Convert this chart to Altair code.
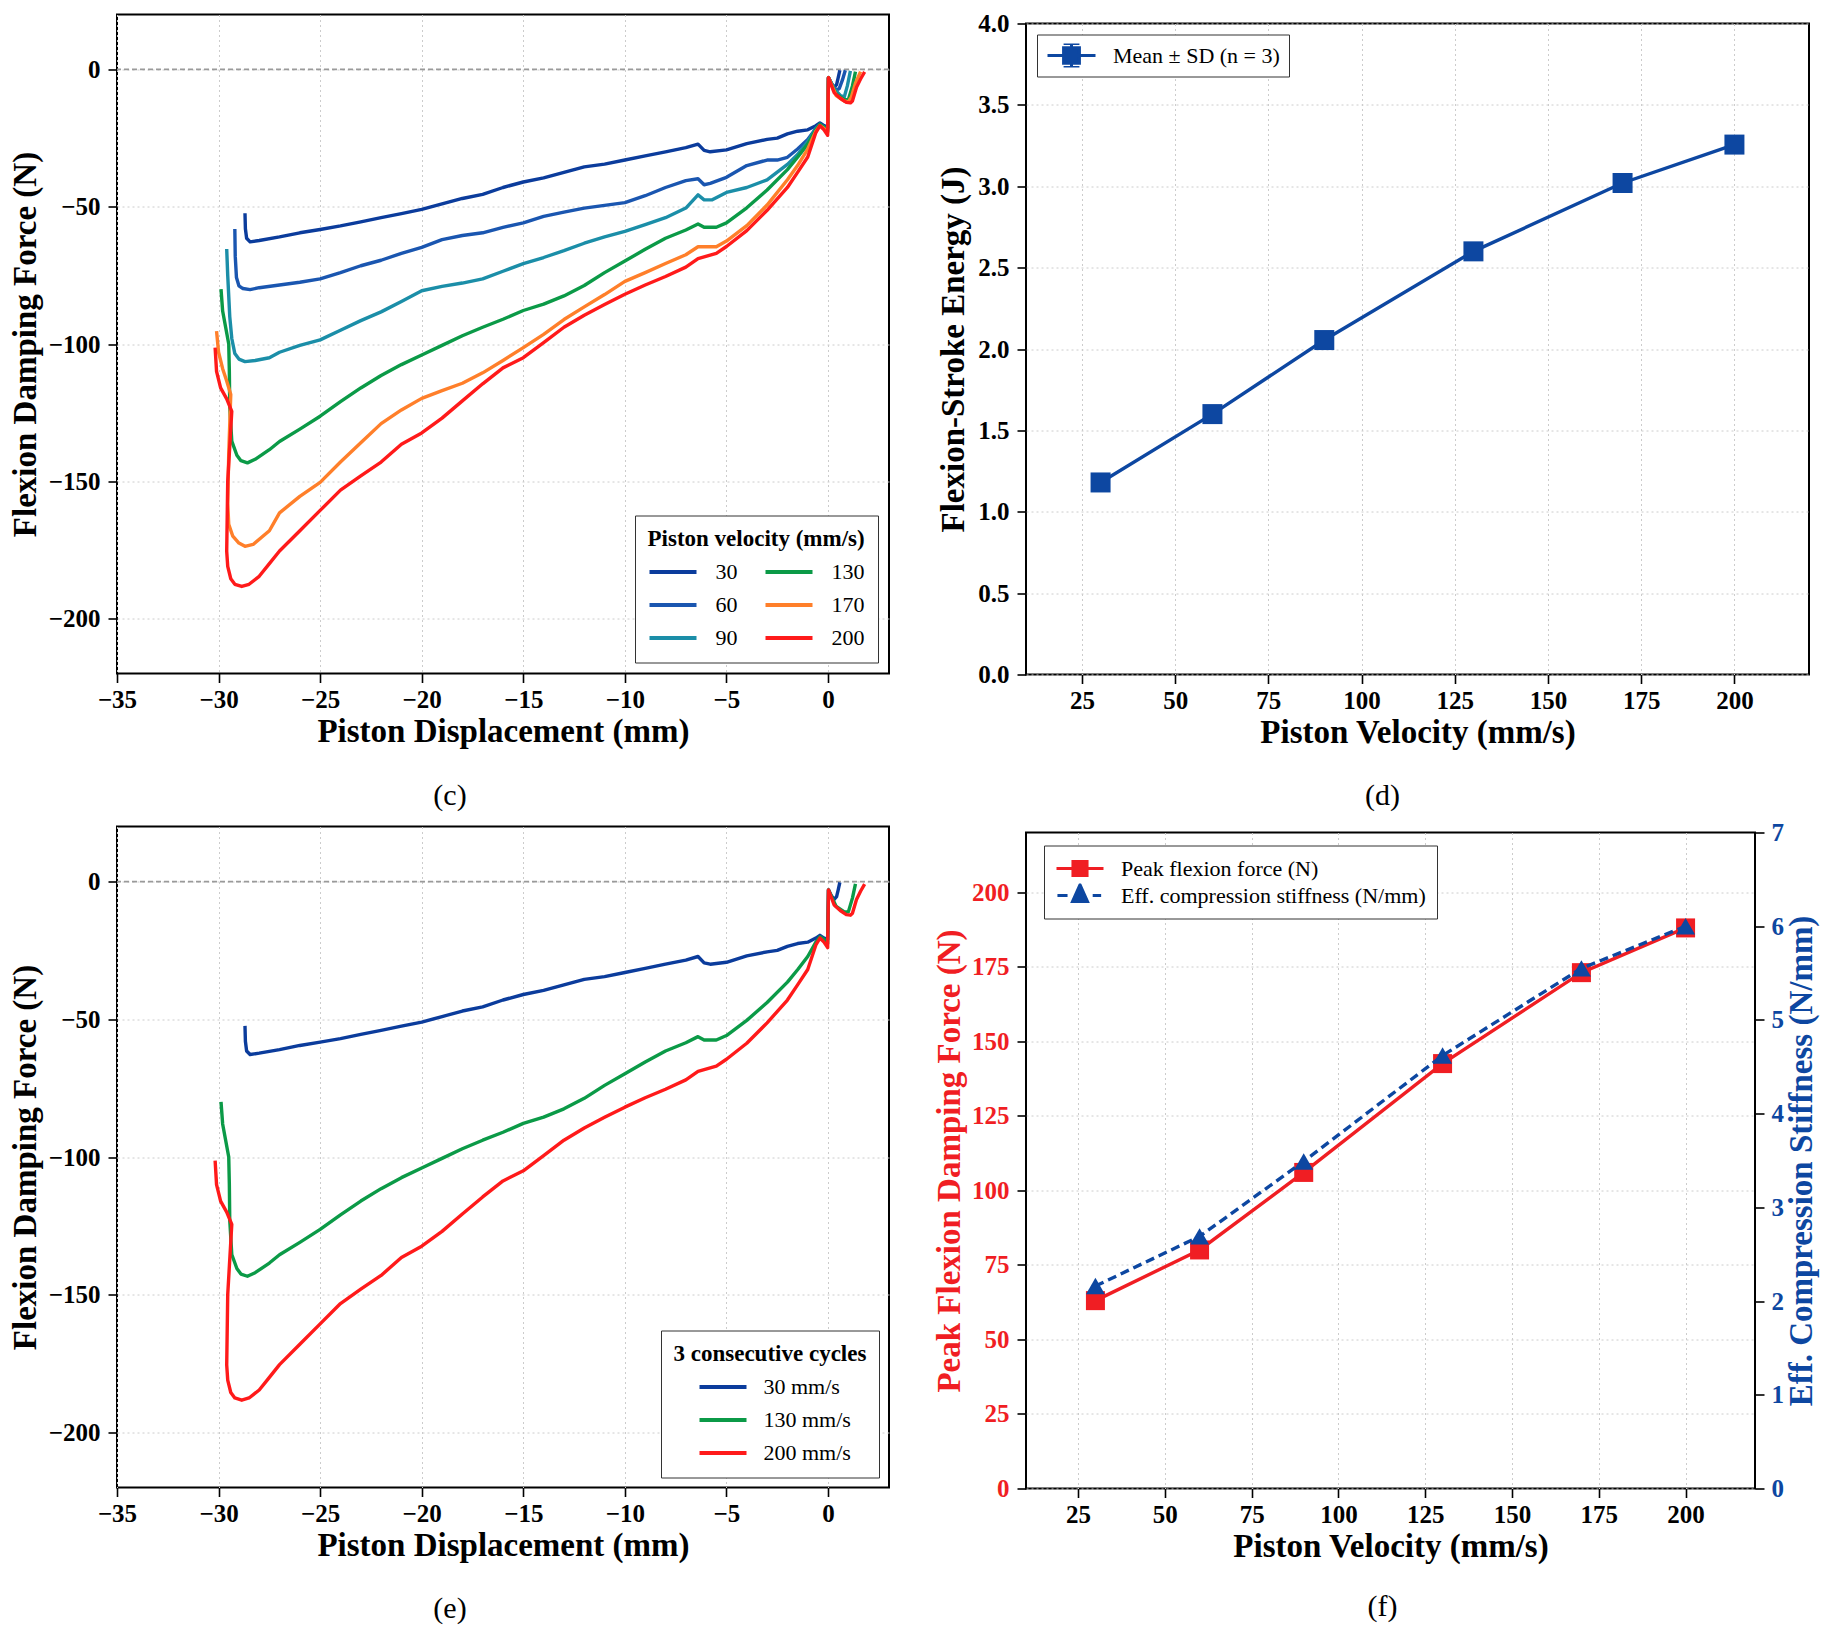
import altair as alt
import pandas as pd

FONT = "Liberation Serif"
BLUE = "#0d47a1"
RED = "#f01e23"

# ---------------- (c)/(e): force vs displacement traces ----------------
X30 = [-28.70, -28.68, -28.62, -28.45, -28.0, -27.0, -26.0, -25.0, -24.0, -23.0, -22.0, -21.0, -20.0,
       -19.0, -18.0, -17.0, -16.0, -15.0, -14.0, -13.0, -12.0, -11.0, -10.0, -9.0, -8.0, -7.0, -6.4,
       -6.1, -5.8, -5.0, -4.0, -3.0, -2.5, -2.0, -1.5, -1.0, -0.6, -0.4, -0.2, -0.02, 0.02, 0.15, 0.3,
       0.42, 0.5, 0.58]
Y30 = [-52.4, -58.0, -61.5, -62.8, -62.3, -61.0, -59.5, -58.3, -57.0, -55.5, -54.0, -52.5, -51.0,
       -49.0, -47.0, -45.5, -43.0, -41.0, -39.5, -37.5, -35.5, -34.5, -33.0, -31.5, -30.0, -28.5, -27.2,
       -29.5, -30.0, -29.3, -27.0, -25.5, -25.0, -23.5, -22.5, -22.0, -20.5, -19.5, -20.5, -21.0, -3.0,
       -5.0, -6.5, -5.5, -3.0, -0.3]

X60 = [-29.2, -29.18, -29.12, -29.0, -28.8, -28.45, -28.0, -27.0, -26.0, -25.0, -24.0, -23.0, -22.0,
       -21.0, -20.0, -19.0, -18.0, -17.0, -16.0, -15.0, -14.0, -13.0, -12.0, -11.0, -10.0, -9.0, -8.0,
       -7.0, -6.4, -6.1, -5.8, -5.0, -4.0, -3.0, -2.5, -2.0, -1.5, -1.0, -0.6, -0.4, -0.2, -0.02, 0.02,
       0.2, 0.4, 0.55, 0.7, 0.85]
Y60 = [-58.1, -68.0, -75.8, -78.8, -79.8, -80.2, -79.5, -78.5, -77.5, -76.3, -74.0, -71.5, -69.5,
       -67.0, -64.8, -62.0, -60.5, -59.5, -57.5, -55.9, -53.5, -52.0, -50.5, -49.5, -48.5, -46.0, -43.0,
       -40.5, -39.8, -42.0, -41.5, -39.3, -35.0, -33.0, -33.0, -32.0, -29.0, -25.5, -21.5, -20.0, -21.0,
       -21.5, -3.0, -5.5, -7.5, -7.0, -4.0, -0.3]

X90 = [-29.6, -29.55, -29.45, -29.35, -29.2, -29.0, -28.7, -28.2, -27.5, -27.0, -26.0, -25.0, -24.0,
       -23.0, -22.0, -21.0, -20.0, -19.0, -18.0, -17.0, -16.0, -15.0, -14.0, -13.0, -12.0, -11.0, -10.0,
       -9.0, -8.0, -7.0, -6.4, -6.1, -5.7, -5.0, -4.0, -3.0, -2.0, -1.5, -1.0, -0.6, -0.4, -0.2, -0.02,
       0.02, 0.3, 0.6, 0.8, 0.95, 1.1]
Y90 = [-65.4, -75.0, -90.0, -98.0, -103.5, -105.5, -106.4, -106.0, -105.0, -103.0, -100.5, -98.5, -95.0,
       -91.5, -88.3, -84.5, -80.6, -79.0, -77.8, -76.3, -73.5, -70.7, -68.5, -66.0, -63.3, -61.0, -59.0,
       -56.5, -54.0, -50.5, -45.7, -47.5, -47.5, -44.8, -43.0, -40.2, -34.6, -31.0, -26.3, -21.5, -20.0,
       -21.0, -22.0, -3.0, -7.0, -9.5, -10.0, -6.0, -0.5]

X130 = [-29.88, -29.8, -29.65, -29.5, -29.47, -29.45, -29.35, -29.1, -28.9, -28.58, -28.2, -27.5, -27.0,
        -26.0, -25.0, -24.0, -23.0, -22.0, -21.0, -20.0, -19.0, -18.0, -17.0, -16.0, -15.0, -14.0, -13.0,
        -12.0, -11.0, -10.0, -9.0, -8.0, -7.0, -6.4, -6.1, -5.5, -5.0, -4.0, -3.0, -2.0, -1.5, -1.0, -0.6,
        -0.4, -0.2, -0.02, 0.02, 0.4, 0.8, 1.0, 1.2, 1.35]
Y130 = [-80.0, -88.0, -94.0, -100.0, -110.0, -123.0, -135.4, -140.5, -142.5, -143.3, -142.0, -138.5, -135.5,
        -131.0, -126.3, -121.0, -116.0, -111.5, -107.5, -104.0, -100.5, -97.0, -93.9, -91.0, -87.8, -85.5,
        -82.5, -78.7, -74.0, -69.8, -65.5, -61.5, -58.5, -56.3, -57.5, -57.5, -55.9, -50.4, -43.9, -36.5,
        -32.0, -27.2, -22.0, -20.0, -21.0, -22.5, -3.0, -9.0, -11.0, -11.0, -6.0, -0.8]

X170 = [-30.1, -30.0, -29.8, -29.6, -29.4, -29.5, -29.55, -29.5, -29.3, -29.0, -28.7, -28.3, -27.5, -27.0,
        -26.0, -25.0, -24.0, -23.0, -22.0, -21.0, -20.0, -19.0, -18.0, -17.0, -16.0, -15.0, -14.0, -13.0,
        -12.0, -11.0, -10.0, -9.0, -8.0, -7.0, -6.4, -5.5, -5.0, -4.0, -3.0, -2.0, -1.5, -1.0, -0.6, -0.4,
        -0.2, -0.02, 0.02, 0.4, 0.8, 1.0, 1.15, 1.35, 1.6]
Y170 = [-95.3, -103.0, -109.0, -113.5, -118.4, -140.0, -158.0, -165.7, -170.0, -172.5, -173.7, -173.0, -168.0,
        -161.5, -155.5, -150.4, -143.0, -136.0, -129.0, -124.0, -119.8, -117.0, -114.3, -110.5, -106.0,
        -101.3, -96.5, -91.1, -86.5, -82.0, -77.2, -74.0, -70.7, -67.5, -64.6, -64.6, -62.5, -56.9, -49.4,
        -40.2, -35.0, -29.0, -22.5, -20.5, -21.5, -23.0, -3.0, -9.5, -11.5, -11.8, -10.0, -5.0, -0.8]

X200 = [-30.17, -30.1, -29.9, -29.6, -29.35, -29.55, -29.6, -29.55, -29.4, -29.2, -28.86, -28.5, -28.0,
        -27.5, -27.0, -26.0, -25.0, -24.0, -23.0, -22.0, -21.0, -20.0, -19.0, -18.0, -17.0, -16.0, -15.0,
        -14.0, -13.0, -12.0, -11.0, -10.0, -9.0, -8.0, -7.0, -6.4, -5.5, -5.0, -4.0, -3.0, -2.0, -1.5,
        -1.0, -0.6, -0.4, -0.2, -0.02, 0.02, 0.3, 0.6, 0.9, 1.1, 1.2, 1.4, 1.6, 1.8]
Y200 = [-101.3, -110.0, -116.0, -120.0, -124.5, -150.0, -175.5, -181.0, -185.5, -187.5, -188.3, -187.5,
        -184.6, -180.0, -175.4, -168.0, -160.6, -153.2, -148.0, -143.0, -136.5, -132.4, -127.0, -120.7,
        -114.5, -108.7, -105.0, -99.5, -93.9, -89.5, -85.6, -81.9, -78.5, -75.4, -72.0, -68.9, -67.0,
        -64.5, -58.7, -51.3, -43.0, -37.5, -31.9, -23.0, -20.5, -22.0, -24.0, -3.0, -8.5, -10.5, -12.0,
        -12.2, -11.5, -6.5, -3.5, -0.9]

CURVES = {"30": (X30, Y30), "60": (X60, Y60), "90": (X90, Y90),
          "130": (X130, Y130), "170": (X170, Y170), "200": (X200, Y200)}
CURVE_COLORS = {"30": "#0b3c9c", "60": "#1a56b0", "90": "#1b8ea8",
                "130": "#0b9a47", "170": "#ff7f2a", "200": "#ff1a1a"}
E_KEYS = ["30", "130", "200"]
E_LABELS = ["30 mm/s", "130 mm/s", "200 mm/s"]

# ---------------- (d): flexion-stroke energy ----------------
VEL = [30, 60, 90, 130, 170, 200]
ENERGY = [1.18, 1.60, 2.055, 2.60, 3.02, 3.256]
ENERGY_SD = [0.02, 0.025, 0.03, 0.035, 0.03, 0.03]
LEG_D = "Mean ± SD (n = 3)"

# ---------------- (f): peak force and stiffness ----------------
PEAK = [63.0, 80.0, 106.0, 142.5, 173.0, 188.0]
STIFF = [2.16, 2.69, 3.49, 4.62, 5.55, 6.0]
S_PEAK = "Peak flexion force (N)"
S_STIFF = "Eff. compression stiffness (N/mm)"

# legend glyphs (line + marker), unit-square SVG paths
PATH_D = "M-1,0H1M-0.33,-0.32H0.33V0.32H-0.33ZM0,-0.5V0.5M-0.33,-0.5H0.33M-0.33,0.5H0.33"
PATH_SQ = "M-1,0H1M-0.3,-0.3H0.3V0.3H-0.3Z"
PATH_TRI = "M-0.96,0H-0.53M0.54,0H0.9M0,-0.46L0.32,0.26H-0.32Z"

INDEP = dict(color="independent", fill="independent", stroke="independent", shape="independent")


def axis(values, fmt=None, grid=True, orient=None, color="black", title_pad=10, label_pad=7, **extra):
    d = dict(values=values, grid=grid, gridColor="#cccccc", gridDash=[2, 3], gridWidth=1,
             tickSize=9, tickWidth=1.6, tickColor="black", domain=False,
             labelFont=FONT, labelFontSize=25, labelFontWeight="bold", labelColor=color,
             labelPadding=label_pad, labelFlush=False, labelOverlap=False,
             titleFont=FONT, titleFontSize=33, titleFontWeight="bold", titleColor=color,
             titlePadding=title_pad)
    if fmt:
        d["format"] = fmt
    if orient:
        d["orient"] = orient
    d.update(extra)
    return alt.Axis(**d)


def caption(text, dx, offset):
    return alt.TitleParams(text=text, orient="bottom", frame="group", anchor="middle", dx=dx,
                           offset=offset, font=FONT, fontSize=30, fontWeight="normal", color="black")


def curve_frame(keys, labels):
    frames = []
    for k, lab in zip(keys, labels):
        xs, ys = CURVES[k]
        frames.append(pd.DataFrame({"x": xs, "y": ys, "v": lab, "i": list(range(len(xs)))}))
    return pd.concat(frames, ignore_index=True)


def force_panel(keys, labels, legend, cap, height):
    df = curve_frame(keys, labels)
    xs = alt.Scale(domain=[-35, 3], nice=False, zero=False)
    ys = alt.Scale(domain=[-220, 20], nice=False, zero=False)
    ax_x = axis(list(range(-35, 1, 5)), title_pad=3, label_pad=5)
    ax_y = axis([0, -50, -100, -150, -200], title_pad=6, label_pad=8)
    ty = "Flexion Damping Force (N)"
    zero = alt.Chart(pd.DataFrame({"y": [0]})).mark_rule(
        color="#9a9a9a", strokeDash=[5, 3], strokeWidth=1.6
    ).encode(y=alt.Y("y:Q", scale=ys, axis=ax_y, title=ty))
    lines = alt.Chart(df).mark_line(strokeWidth=3.4, strokeJoin="round").encode(
        x=alt.X("x:Q", scale=xs, axis=ax_x, title="Piston Displacement (mm)"),
        y=alt.Y("y:Q", scale=ys, axis=ax_y, title=ty),
        color=alt.Color("v:N", scale=alt.Scale(domain=labels,
                                               range=[CURVE_COLORS[k] for k in keys]),
                        legend=legend),
        order=alt.Order("i:Q"),
    )
    return alt.layer(zero, lines).properties(width=772, height=height, title=cap)


LEG_COMMON = dict(labelFont=FONT, labelFontSize=22, labelColor="black", labelLimit=500,
                  titleFont=FONT, titleFontSize=23, titleFontWeight="bold", titleColor="black",
                  titleLimit=500, strokeColor="#333333", fillColor="white", clipHeight=24)

leg_c = alt.Legend(title="Piston velocity (mm/s)", orient="bottom-right", offset=11, columns=2,
                   symbolType="stroke", symbolSize=2209, symbolStrokeWidth=4, titlePadding=9,
                   labelOffset=17, columnPadding=26, rowPadding=9, padding=12.5, **LEG_COMMON)
panel_c = force_panel(list(CURVES.keys()), list(CURVES.keys()), leg_c, caption("(c)", -53, 32), 659)

leg_e = alt.Legend(title="3 consecutive cycles", orient="bottom-right", offset=10,
                   symbolType="stroke", symbolSize=2209, symbolStrokeWidth=4, symbolOffset=24,
                   titlePadding=9, labelOffset=15, rowPadding=9, padding=12.5, **LEG_COMMON)
panel_e = force_panel(E_KEYS, E_LABELS, leg_e, caption("(e)", -53, 31), 661)

# ---------------- panel (d) ----------------
df_d = pd.DataFrame({"v": VEL, "e": ENERGY,
                     "lo": [a - b for a, b in zip(ENERGY, ENERGY_SD)],
                     "hi": [a + b for a, b in zip(ENERGY, ENERGY_SD)],
                     "s": [LEG_D] * len(VEL)})
xs_d = alt.Scale(domain=[10, 220], nice=False, zero=False)
ys_d = alt.Scale(domain=[0, 4], nice=False, zero=False)
ax_xd = axis([25, 50, 75, 100, 125, 150, 175, 200], title_pad=3, label_pad=5)
ax_yd = axis([0, 0.5, 1.0, 1.5, 2.0, 2.5, 3.0, 3.5, 4.0], fmt=".1f", title_pad=7, label_pad=8)
X_D = alt.X("v:Q", scale=xs_d, axis=ax_xd, title="Piston Velocity (mm/s)")
TY_D = "Flexion-Stroke Energy (J)"
base_d = alt.Chart(df_d)
line_d = base_d.mark_line(color=BLUE, strokeWidth=3.4).encode(
    x=X_D, y=alt.Y("e:Q", scale=ys_d, axis=ax_yd, title=TY_D))
err_d = base_d.mark_rule(color=BLUE, strokeWidth=2).encode(
    x=X_D, y=alt.Y("lo:Q", scale=ys_d, axis=ax_yd, title=TY_D), y2="hi:Q")
cap_lo = base_d.mark_point(shape="stroke", size=324, strokeWidth=2, color=BLUE, opacity=1).encode(
    x=X_D, y=alt.Y("lo:Q", scale=ys_d, axis=ax_yd, title=TY_D))
cap_hi = base_d.mark_point(shape="stroke", size=324, strokeWidth=2, color=BLUE, opacity=1).encode(
    x=X_D, y=alt.Y("hi:Q", scale=ys_d, axis=ax_yd, title=TY_D))
sq_d = base_d.mark_square(color=BLUE, size=400, opacity=1).encode(
    x=X_D, y=alt.Y("e:Q", scale=ys_d, axis=ax_yd, title=TY_D))
leg_d = alt.Legend(title=None, orient="top-left", offset=11, symbolSize=2304, symbolStrokeWidth=3,
                   symbolOpacity=1, labelOffset=16, padding=9, **LEG_COMMON)
legend_d = alt.Chart(df_d.head(1)).mark_point(filled=True, size=0).encode(
    x=X_D, y=alt.Y("e:Q", scale=ys_d, axis=ax_yd, title=TY_D),
    fill=alt.Fill("s:N", scale=alt.Scale(domain=[LEG_D], range=[BLUE]), legend=leg_d),
    stroke=alt.Stroke("s:N", scale=alt.Scale(domain=[LEG_D], range=[BLUE]), legend=leg_d),
    shape=alt.Shape("s:N", scale=alt.Scale(domain=[LEG_D], range=[PATH_D]), legend=leg_d),
)
panel_d = alt.layer(line_d, err_d, cap_lo, cap_hi, sq_d, legend_d).properties(
    width=783, height=651, title=caption("(d)", -35, 31))

# ---------------- panel (f) ----------------
df_f = pd.DataFrame({"v": VEL, "p": PEAK, "k": STIFF})
df_fleg = pd.DataFrame({"v": VEL[:2], "p": PEAK[:2], "s": [S_PEAK, S_STIFF]})
xs_f = alt.Scale(domain=[10, 220], nice=False, zero=False)
yl_f = alt.Scale(domain=[0, 220], nice=False, zero=False)
yr_f = alt.Scale(domain=[0, 7], nice=False, zero=False)
ax_xf = axis([25, 50, 75, 100, 125, 150, 175, 200], title_pad=3, label_pad=5)
ax_yl = axis(list(range(0, 201, 25)), orient="left", color=RED, title_pad=5, label_pad=8)
ax_yr = axis([0, 1, 2, 3, 4, 5, 6, 7], orient="right", grid=False, color=BLUE, title_pad=2,
             label_pad=7, titleAngle=270, titleBaseline="top")
X_F = alt.X("v:Q", scale=xs_f, axis=ax_xf, title="Piston Velocity (mm/s)")
TL = "Peak Flexion Damping Force (N)"
TR = "Eff. Compression Stiffness (N/mm)"
Y_L = alt.Y("p:Q", scale=yl_f, axis=ax_yl, title=TL)
Y_R = alt.Y("k:Q", scale=yr_f, axis=ax_yr, title=TR)
base_f = alt.Chart(df_f)
line_p = base_f.mark_line(color=RED, strokeWidth=3.4).encode(x=X_F, y=Y_L)
sq_p = base_f.mark_square(color=RED, size=361, opacity=1).encode(x=X_F, y=Y_L)
leg_f = alt.Legend(title=None, orient="none", legendX=18, legendY=13, symbolSize=2209,
                   symbolStrokeWidth=3, symbolOpacity=1, labelOffset=16, rowPadding=3, padding=11,
                   **LEG_COMMON)
SDOM = [S_PEAK, S_STIFF]
legend_f = alt.Chart(df_fleg).mark_point(filled=True, size=0).encode(
    x=X_F, y=Y_L,
    fill=alt.Fill("s:N", scale=alt.Scale(domain=SDOM, range=[RED, BLUE]), legend=leg_f),
    stroke=alt.Stroke("s:N", scale=alt.Scale(domain=SDOM, range=[RED, BLUE]), legend=leg_f),
    shape=alt.Shape("s:N", scale=alt.Scale(domain=SDOM, range=[PATH_SQ, PATH_TRI]), legend=leg_f),
)
left_f = alt.layer(line_p, sq_p, legend_f)
line_k = base_f.mark_line(color=BLUE, strokeWidth=3.4, strokeDash=[9, 5]).encode(x=X_F, y=Y_R)
tri_k = base_f.mark_point(shape="triangle-up", filled=True, color=BLUE, size=360, opacity=1).encode(
    x=X_F, y=Y_R)
right_f = alt.layer(line_k, tri_k)
panel_f = alt.layer(left_f, right_f).resolve_scale(y="independent").properties(
    width=729, height=656, title=caption("(f)", -8, 28))

# ---------------- layout ----------------
spacer = alt.Chart(pd.DataFrame({"a": [0]})).mark_point(opacity=0, size=0).encode(
    x=alt.value(1), y=alt.value(0)
).properties(width=783, height=1, view=alt.ViewBackground(stroke="transparent", fill="transparent"))

col1 = alt.vconcat(panel_c, panel_e, spacing=14).resolve_scale(**INDEP)
col2_top = alt.vconcat(spacer, panel_d, spacing=-6).resolve_scale(**INDEP)
col2 = alt.vconcat(col2_top, panel_f, spacing=8).resolve_scale(**INDEP)
chart = alt.hconcat(col1, col2, spacing=41).resolve_scale(**INDEP).properties(
    padding={"left": 0, "top": 2.5, "right": 4, "bottom": 4}
).configure(font=FONT, background="white").configure_view(stroke="black", strokeWidth=2, fill="white")

chart.save("out.html", embed_options={"renderer": "svg", "actions": False})
